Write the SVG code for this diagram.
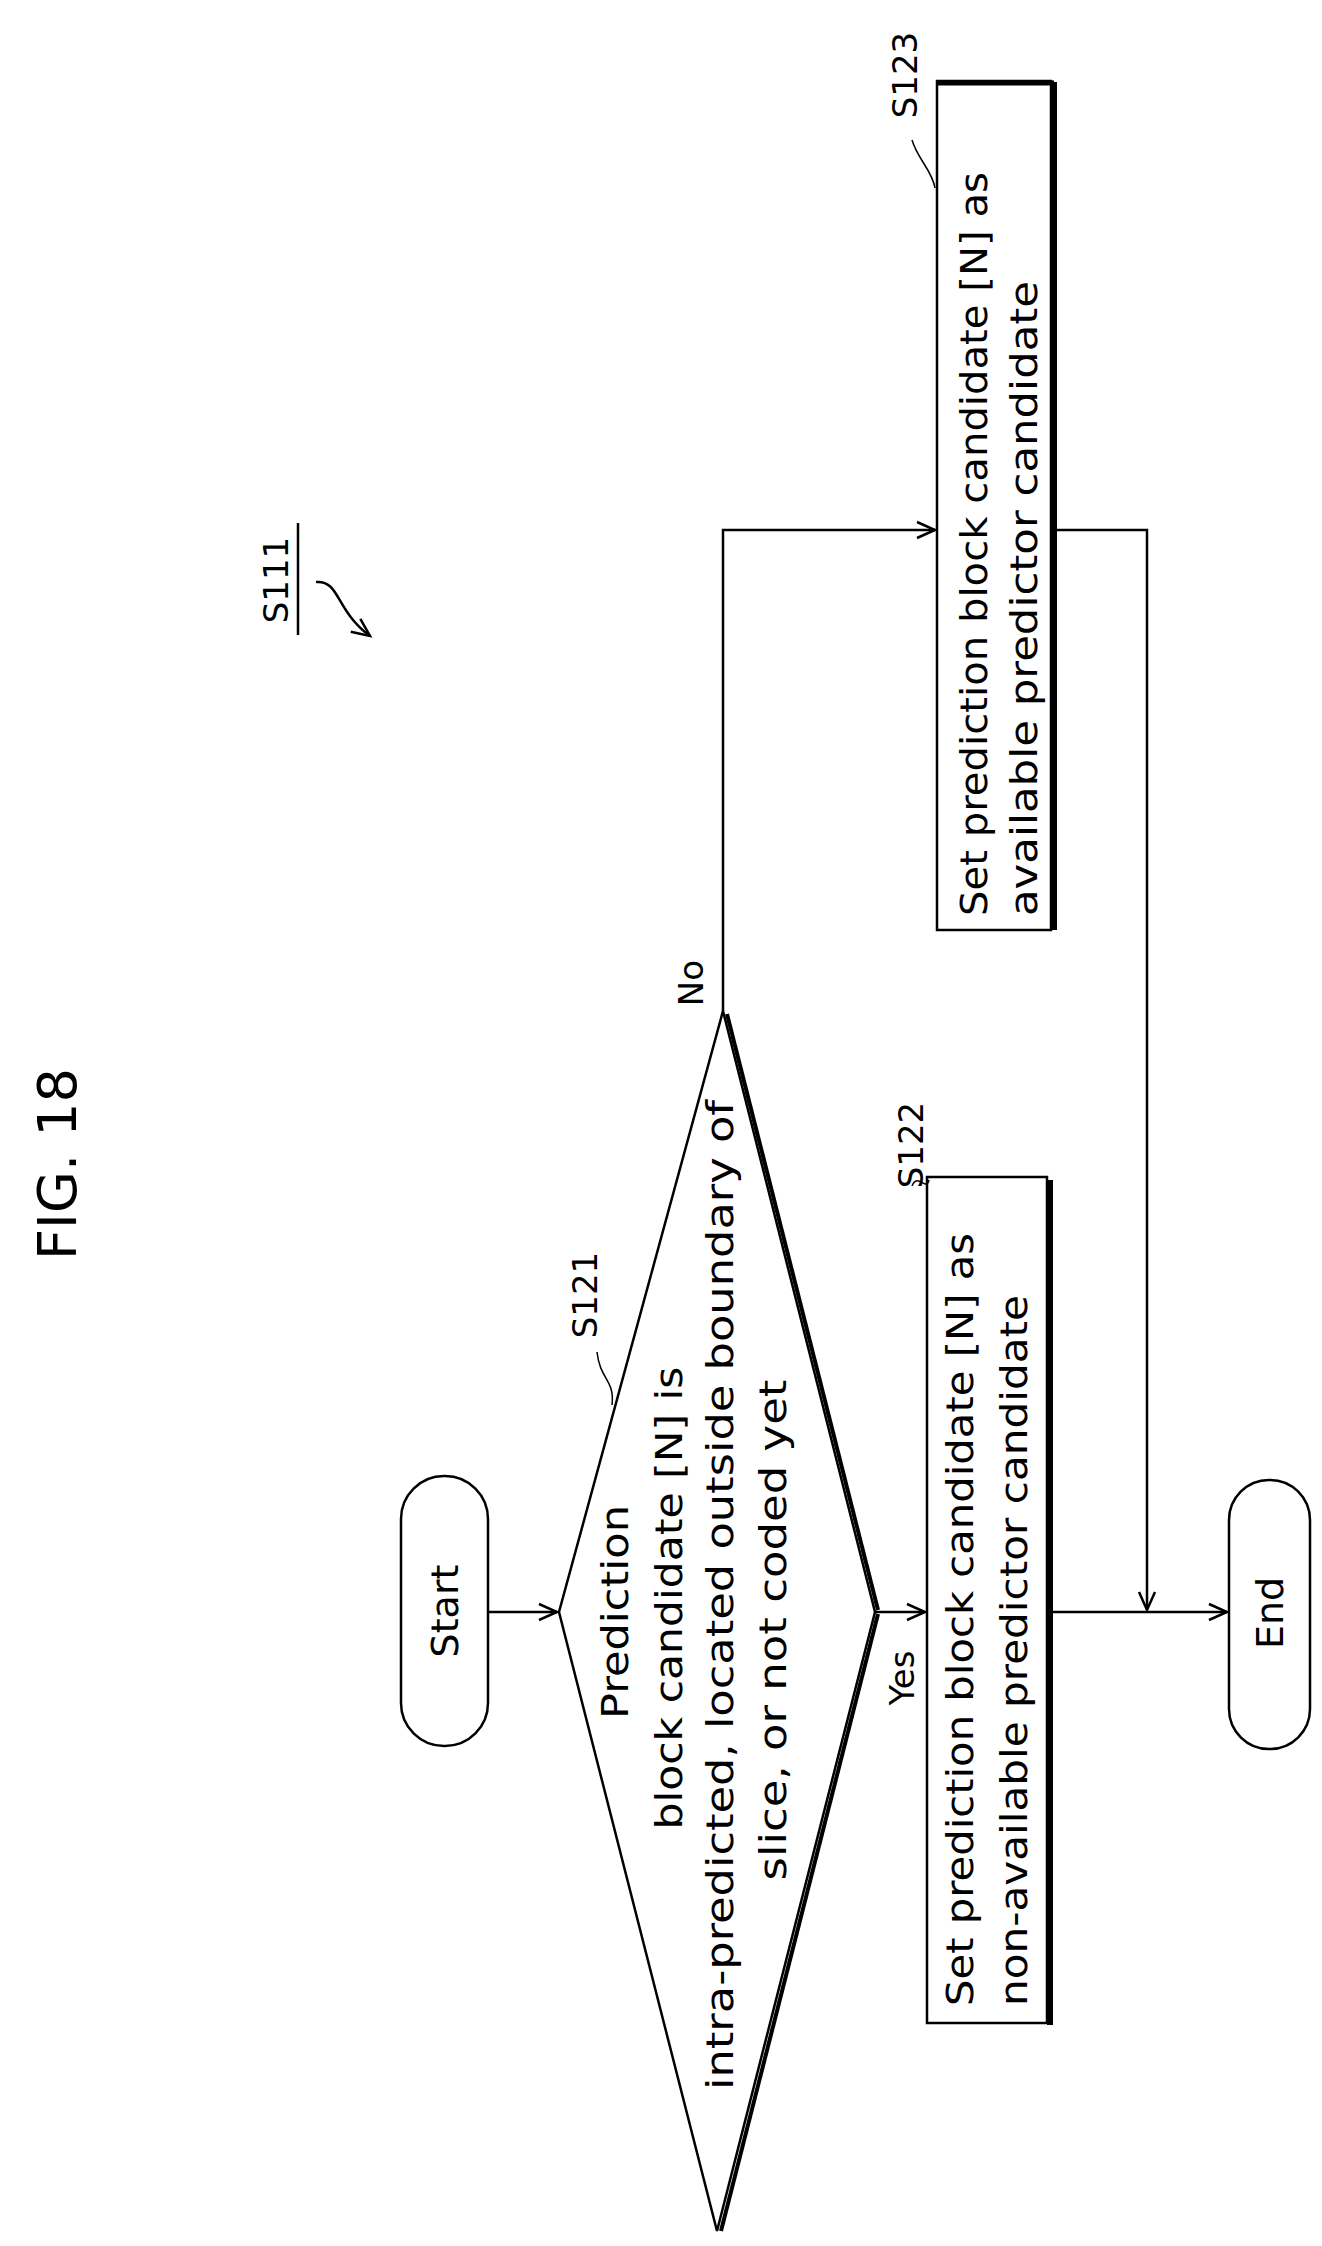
<svg xmlns="http://www.w3.org/2000/svg" width="1322" height="2246" viewBox="0 0 1322 2246">
<style>
.t{font-family:"DejaVu Sans","Liberation Sans",sans-serif;font-size:38px;fill:#000}
.s{fill:#fff;stroke:#000;stroke-width:2.5}
.c{fill:none;stroke:#000;stroke-width:2.5}
</style>
<defs>
<marker id="a" markerWidth="24" markerHeight="20" refX="20" refY="10" orient="auto" markerUnits="userSpaceOnUse">
<polyline points="2,2 20,10 2,18" fill="none" stroke="#000" stroke-width="2.5"/>
</marker>
</defs>
<rect width="1322" height="2246" fill="#fff"/>
<text class="t" style="font-size:54px" text-anchor="middle" transform="translate(76,1164) rotate(-90)">FIG. 18</text>
<g id="S111">
<text class="t" style="font-size:34px" text-anchor="middle" transform="translate(288,580) rotate(-90)">S111</text>
<line x1="298" y1="523" x2="298" y2="635" stroke="#000" stroke-width="2.5"/>
<path class="c" d="M316,582 C340,580 335,610 370,636" marker-end="url(#a)"/>
</g>
<g id="connectors">
<line class="c" x1="488" y1="1612" x2="557" y2="1612" marker-end="url(#a)"/>
<line class="c" x1="875" y1="1612" x2="925" y2="1612" marker-end="url(#a)"/>
<polyline class="c" points="723,1011 723,530 935,530" marker-end="url(#a)"/>
<polyline class="c" points="1057,530 1147,530 1147,1610" marker-end="url(#a)"/>
<line class="c" x1="1053" y1="1612" x2="1227" y2="1612" marker-end="url(#a)"/>
<text class="t" style="font-size:34px" text-anchor="middle" transform="translate(914,1678) rotate(-90)">Yes</text>
<text class="t" style="font-size:34px" text-anchor="middle" transform="translate(703,983) rotate(-90)">No</text>
</g>
<g id="start">
<rect class="s" x="401" y="1476" width="87" height="270" rx="43"/>
<text class="t" text-anchor="middle" transform="translate(458,1611) rotate(-90)">Start</text>
</g>
<g id="S121">
<polygon class="s" points="723,1011 875,1612 717,2231 559,1612"/>
<line x1="727" y1="1014" x2="878" y2="1610" stroke="#000" stroke-width="4"/>
<line x1="878" y1="1614" x2="721" y2="2231" stroke="#000" stroke-width="4"/>
<text class="t" text-anchor="middle" transform="translate(628,1612) rotate(-90)" textLength="214" lengthAdjust="spacingAndGlyphs">Prediction</text>
<text class="t" text-anchor="middle" transform="translate(682,1598) rotate(-90)" textLength="463" lengthAdjust="spacingAndGlyphs">block candidate [N] is</text>
<text class="t" text-anchor="middle" transform="translate(733,1595) rotate(-90)" textLength="990" lengthAdjust="spacingAndGlyphs">intra-predicted, located outside boundary of</text>
<text class="t" text-anchor="middle" transform="translate(786,1630) rotate(-90)" textLength="501" lengthAdjust="spacingAndGlyphs">slice, or not coded yet</text>
<text class="t" style="font-size:34px" text-anchor="middle" transform="translate(597,1295) rotate(-90)">S121</text>
<path class="c" style="stroke-width:1.5" d="M597,1352 C600,1380 615,1380 612,1405"/>
</g>
<g id="S122">
<rect class="s" x="927" y="1177" width="120" height="846"/>
<line x1="1050" y1="1180" x2="1050" y2="2025" stroke="#000" stroke-width="6"/>
<text class="t" transform="translate(973,2006) rotate(-90)" textLength="773" lengthAdjust="spacingAndGlyphs">Set prediction block candidate [N] as</text>
<text class="t" transform="translate(1027,2006) rotate(-90)" textLength="711" lengthAdjust="spacingAndGlyphs">non-available predictor candidate</text>
<text class="t" style="font-size:34px" text-anchor="middle" transform="translate(923,1145) rotate(-90)">S122</text>
<path class="c" style="stroke-width:1.5" d="M912,1186 C918,1172 926,1192 929,1180"/>
</g>
<g id="S123">
<rect class="s" x="937" y="81" width="114" height="849"/>
<line x1="1054" y1="82" x2="1054" y2="930" stroke="#000" stroke-width="6"/>
<line x1="938" y1="83" x2="1054" y2="83" stroke="#000" stroke-width="5"/>
<text class="t" transform="translate(987,916) rotate(-90)" textLength="744" lengthAdjust="spacingAndGlyphs">Set prediction block candidate [N] as</text>
<text class="t" transform="translate(1037,916) rotate(-90)" textLength="635" lengthAdjust="spacingAndGlyphs">available predictor candidate</text>
<text class="t" style="font-size:34px" text-anchor="middle" transform="translate(917,75) rotate(-90)">S123</text>
<path class="c" style="stroke-width:1.5" d="M912,140 C918,160 932,170 935,188"/>
</g>
<g id="end">
<rect class="s" x="1229" y="1480" width="81" height="269" rx="40"/>
<text class="t" text-anchor="middle" transform="translate(1283,1613) rotate(-90)">End</text>
</g>
</svg>
